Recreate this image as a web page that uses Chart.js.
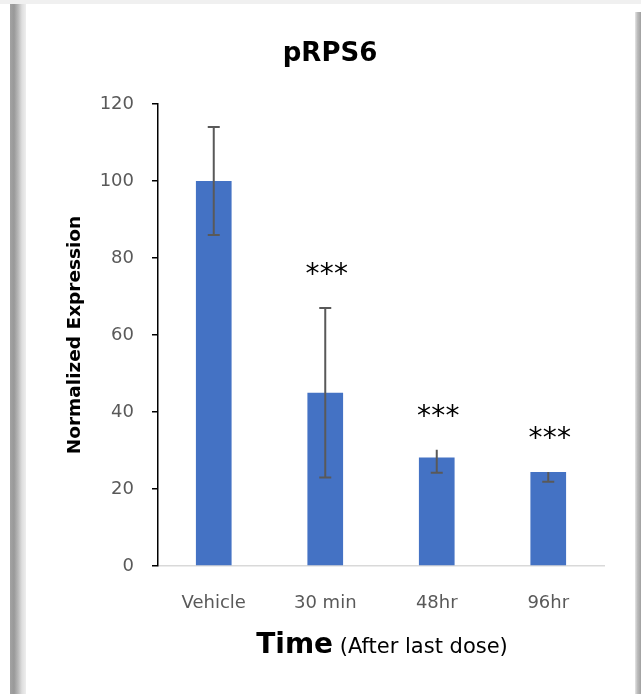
<!DOCTYPE html>
<html>
<head>
<meta charset="utf-8">
<script src="https://cdn.jsdelivr.net/npm/chart.js@4/dist/chart.umd.min.js"></script>
<style>
  html, body { margin: 0; padding: 0; background: #fff; }
  #wrap { position: relative; width: 641px; height: 694px; overflow: hidden; }
  #topStrip { position: absolute; left: 0; top: 0; width: 641px; height: 4px; background: #f0f0f0; }
  #leftShadow { position: absolute; left: 10px; top: 4px; width: 16px; height: 690px;
    background: linear-gradient(to right, #a3a3a3 0%, #999 25%, #b8b8b8 50%, #dedede 75%, #eeeeee 100%); }
  #rightShadow { position: absolute; left: 635px; top: 12px; width: 6px; height: 682px;
    background: linear-gradient(to right, #e6e6e6 0%, #bdbdbd 40%, #a0a0a0 100%); }
  canvas { position: absolute; left: 0; top: 0; }
</style>
</head>
<body>
<div id="wrap">
  <div id="topStrip"></div>
  <div id="leftShadow"></div>
  <div id="rightShadow"></div>
  <canvas id="grafico" width="641" height="694"></canvas>
</div>
<script>
// valores
const categorias = ['Vehicle', '30 min', '48hr', '96hr'];
const valores = [100, 45, 28.2, 24.4];
const errorArriba = [14, 22, 2, 0];
const errorAbajo = [14, 22, 4, 2.5];
const capArriba = [true, true, false, false];
const asteriscos = ['', '***', '***', '***'];
const titulo = 'pRPS6';

const fuente = 'DejaVu Sans';

// barras de error, asteriscos, titulo y titulo del eje x
const extras = {
    id: 'extras',
    afterDatasetsDraw(chart) {
        const ctx = chart.ctx;
        const y = chart.scales.y;
        const meta = chart.getDatasetMeta(0);
        ctx.save();
        ctx.strokeStyle = '#595959';
        ctx.lineWidth = 2;
        meta.data.forEach((barra, i) => {
            const x = barra.x;
            const arriba = y.getPixelForValue(valores[i] + errorArriba[i]);
            const abajo = y.getPixelForValue(valores[i] - errorAbajo[i]);
            ctx.beginPath();
            ctx.moveTo(x, arriba);
            ctx.lineTo(x, abajo);
            ctx.moveTo(x - 6, abajo);
            ctx.lineTo(x + 6, abajo);
            if (capArriba[i]) {
                ctx.moveTo(x - 6, arriba);
                ctx.lineTo(x + 6, arriba);
            }
            ctx.stroke();

            if (asteriscos[i]) {
                ctx.fillStyle = '#000';
                ctx.font = '28px "' + fuente + '"';
                ctx.textAlign = 'center';
                ctx.textBaseline = 'alphabetic';
                const centro = arriba - 41;
                for (let k = 0; k < asteriscos[i].length; k++) {
                    ctx.fillText('*', x + 1.5 + (k - 1) * 14.2, centro + 0.58 * 28);
                }
            }
        });

        // titulo del grafico
        ctx.fillStyle = '#000';
        ctx.textAlign = 'center';
        ctx.textBaseline = 'alphabetic';
        ctx.font = 'bold 26px "' + fuente + '"';
        ctx.fillText(titulo, 330, 61);

        // titulo eje x con dos fuentes
        const area = chart.chartArea;
        const t1 = 'Time';
        const t2 = ' (After last dose)';
        ctx.textAlign = 'left';
        ctx.font = 'bold 28px "' + fuente + '"';
        const w1 = ctx.measureText(t1).width;
        ctx.font = '21px "' + fuente + '"';
        const w2 = ctx.measureText(t2).width;
        const x0 = (area.left + area.right) / 2 + 1 - (w1 + w2) / 2;
        ctx.font = 'bold 28px "' + fuente + '"';
        ctx.fillText(t1, x0, 653);
        ctx.font = '21px "' + fuente + '"';
        ctx.fillText(t2, x0 + w1, 653);
        ctx.restore();
    }
};

const dataGrafico = {
    labels: categorias,
    datasets: [{
        label: titulo,
        backgroundColor: '#4472C4',
        data: valores,
        categoryPercentage: 1,
        barPercentage: 0.32
    }]
};

const configGrafico = {
    type: 'bar',
    data: dataGrafico,
    options: {
        responsive: false,
        animation: false,
        layout: { padding: { left: 0, right: 37, top: 104, bottom: 0 } },
        plugins: {
            legend: { display: false },
            tooltip: { enabled: false },
            title: { display: false }
        },
        scales: {
            x: {
                grid: { display: false },
                border: { display: true, color: '#d9d9d9', width: 1.5 },
                ticks: { color: '#595959', font: { family: fuente, size: 18 }, padding: 19 },
                afterFit: function (scale) { scale.height = 128; }
            },
            y: {
                min: 0,
                max: 120,
                ticks: { stepSize: 20, color: '#595959', font: { family: fuente, size: 18 }, padding: 18 },
                grid: { drawOnChartArea: false, drawTicks: true, tickLength: 6, color: '#000', lineWidth: 1.5 },
                border: { display: true, color: '#000', width: 1.5 },
                title: {
                    display: true,
                    text: 'Normalized Expression',
                    color: '#000',
                    font: { family: fuente, size: 18.5, weight: 'bold', lineHeight: 1.2 },
                    padding: { top: 64, bottom: 0 }
                },
                afterFit: function (scale) { scale.width = 158; }
            }
        }
    },
    plugins: [extras]
};

const miGrafico = new Chart(document.getElementById('grafico'), configGrafico);
</script>
</body>
</html>
